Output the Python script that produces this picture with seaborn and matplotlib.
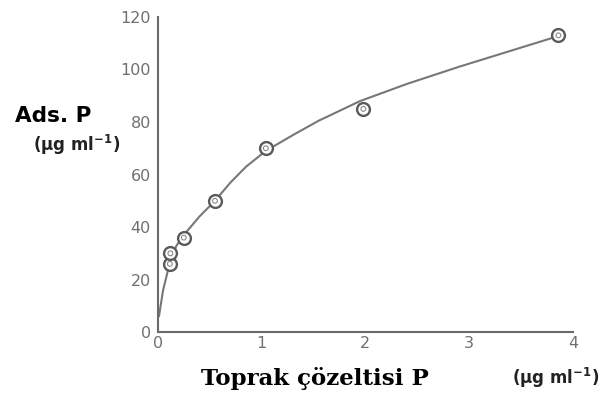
import matplotlib
matplotlib.use("Agg")
import matplotlib.pyplot as plt
import seaborn as sns
import pandas as pd

# Measured points
sol_p = [0.115, 0.12, 0.25, 0.55, 1.04, 1.98, 3.86]
ads_p = [26, 30, 36, 50, 70, 85, 113]

# Fitted curve
curve_x = [0.01, 0.05, 0.10, 0.12, 0.18, 0.25, 0.40, 0.55, 0.70, 0.85, 1.04, 1.30, 1.55, 1.95, 2.40, 2.90, 3.35, 3.80]
curve_y = [6, 16, 24, 28, 33, 37, 44, 50, 57, 63, 69, 75, 80.5, 88, 94.5, 101, 106.5, 112]

xticks = [0, 1, 2, 3, 4]
yticks = [0, 20, 40, 60, 80, 100, 120]

sns.set_theme(style="white")
plt.rcParams['font.family'] = ['DejaVu Sans']
plt.rcParams['mathtext.fontset'] = 'dejavusans'

fig = plt.figure(figsize=(6.05, 3.94), dpi=100)
ax = fig.add_axes([0.261, 0.157, 0.686, 0.800])

gray = "#6a6a6a"
pts = pd.DataFrame({"x": sol_p, "y": ads_p})
cur = pd.DataFrame({"x": curve_x, "y": curve_y})

sns.lineplot(data=cur, x="x", y="y", ax=ax, color="#777777", lw=1.5, sort=False)
sns.scatterplot(data=pts, x="x", y="y", ax=ax, s=85, facecolor="white",
                edgecolor="#5a5a5a", linewidth=1.7, zorder=3)
sns.scatterplot(data=pts, x="x", y="y", ax=ax, s=12, facecolor="none",
                edgecolor="#8a8a8a", linewidth=0.8, zorder=4)

ax.set_xlim(0, 4)
ax.set_ylim(0, 120)
ax.set_xticks(xticks)
ax.set_yticks(yticks)
ax.set_xlabel("")
ax.set_ylabel("")
for s in ["top", "right"]:
    ax.spines[s].set_visible(False)
for s in ["left", "bottom"]:
    ax.spines[s].set_color(gray)
    ax.spines[s].set_linewidth(1.5)
ax.tick_params(axis="both", direction="in", length=4, width=1.2, color=gray,
               labelcolor="#707070", labelsize=11.5)
ax.tick_params(axis="y", pad=5)
ax.tick_params(axis="x", pad=3)
ax.patch.set_alpha(0)

fig.text(0.024, 0.705, "Ads. P", fontsize=15.5, fontweight="bold",
         family="DejaVu Sans", color="black", va="center")
fig.text(0.055, 0.632, "(µg ml$^{\\mathbf{-1}}$)", fontsize=12, fontweight="bold",
         family="DejaVu Sans", color="#222222", va="center")
fig.text(0.521, 0.040, "Toprak çözeltisi P", fontsize=16.5, fontweight="bold",
         family="DejaVu Serif", color="black", ha="center", va="center")
fig.text(0.847, 0.040, "(µg ml$^{\\mathbf{-1}}$)", fontsize=12, fontweight="bold",
         family="DejaVu Sans", color="#222222", va="center")

fig.savefig("out.png", dpi=100)
